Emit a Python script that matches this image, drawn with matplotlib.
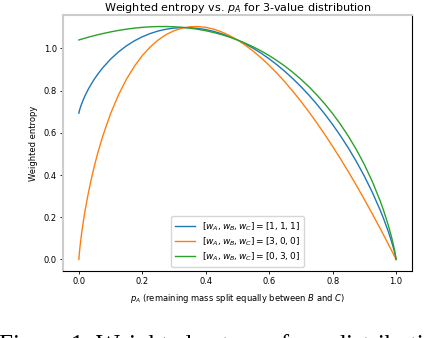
import matplotlib
matplotlib.use("Agg")
import matplotlib.pyplot as plt

# p_A values and weighted entropy
p_a = [0.0, 0.002, 0.005, 0.01, 0.015, 0.02, 0.03, 0.04, 0.05, 0.06, 0.075, 0.1,
       0.125, 0.15, 0.175, 0.2, 0.225, 0.25, 0.275, 0.3, 0.325, 0.35, 0.375, 0.4,
       0.425, 0.45, 0.475, 0.5, 0.525, 0.55, 0.575, 0.6, 0.625, 0.65, 0.675, 0.7,
       0.725, 0.75, 0.775, 0.8, 0.825, 0.85, 0.875, 0.9, 0.925, 0.95, 0.96, 0.975,
       0.985, 0.99, 0.995, 0.998, 1.0]
h_111 = [0.6931, 0.7062, 0.7212, 0.7422, 0.7606, 0.7773, 0.8071, 0.8334, 0.8570,
         0.8785, 0.9075, 0.9489, 0.9833, 1.0119, 1.0356, 1.0549, 1.0704, 1.0822,
         1.0907, 1.0961, 1.0985, 1.0980, 1.0948, 1.0889, 1.0804, 1.0694, 1.0558,
         1.0397, 1.0212, 1.0001, 0.9765, 0.9503, 0.9215, 0.8901, 0.8559, 0.8188,
         0.7788, 0.7356, 0.6891, 0.6390, 0.5850, 0.5267, 0.4634, 0.3944, 0.3184,
         0.2332, 0.1957, 0.1342, 0.0883, 0.0629, 0.0350, 0.0158, 0.0]
h_300 = [0.0, 0.0373, 0.0795, 0.1382, 0.1890, 0.2347, 0.3156, 0.3863, 0.4494,
         0.5064, 0.5828, 0.6908, 0.7798, 0.8537, 0.9151, 0.9657, 1.0069, 1.0397,
         1.0651, 1.0836, 1.0958, 1.1023, 1.1034, 1.0995, 1.0910, 1.0780, 1.0608,
         1.0397, 1.0149, 0.9864, 0.9546, 0.9195, 0.8813, 0.8400, 0.7959, 0.7490,
         0.6995, 0.6473, 0.5926, 0.5355, 0.4761, 0.4144, 0.3505, 0.2845, 0.2163,
         0.1462, 0.1176, 0.0741, 0.0447, 0.0299, 0.0150, 0.0060, 0.0]
h_030 = [1.0397, 1.0406, 1.0420, 1.0442, 1.0464, 1.0486, 1.0529, 1.0569, 1.0608,
         1.0646, 1.0699, 1.0780, 1.0850, 1.0910, 1.0958, 1.0995, 1.1021, 1.1034,
         1.1035, 1.1023, 1.0998, 1.0958, 1.0904, 1.0836, 1.0751, 1.0651, 1.0533,
         1.0397, 1.0243, 1.0069, 0.9874, 0.9657, 0.9416, 0.9151, 0.8858, 0.8537,
         0.8185, 0.7798, 0.7374, 0.6908, 0.6395, 0.5828, 0.5199, 0.4494, 0.3694,
         0.2767, 0.2347, 0.1643, 0.1101, 0.0795, 0.0449, 0.0207, 0.0]

labels = [r"$[w_A, w_B, w_C] = [1, 1, 1]$",
          r"$[w_A, w_B, w_C] = [3, 0, 0]$",
          r"$[w_A, w_B, w_C] = [0, 3, 0]$"]

fig = plt.figure(figsize=(4.3, 3.38), dpi=100)
ax = fig.add_axes([0.1465, 0.198, 0.8115, 0.758])

ax.plot(p_a, h_111, color="tab:blue", lw=1.0, label=labels[0])
ax.plot(p_a, h_300, color="tab:orange", lw=1.0, label=labels[1])
ax.plot(p_a, h_030, color="tab:green", lw=1.0, label=labels[2])

ax.set_title(r"Weighted entropy vs. $p_A$ for 3-value distribution", fontsize=8, pad=3)
ax.set_xlabel(r"$p_A$ (remaining mass split equally between $B$ and $C$)", fontsize=6, labelpad=4)
ax.set_ylabel("Weighted entropy", fontsize=6, labelpad=4)
ax.tick_params(labelsize=6, width=0.6, length=2.5, pad=2)
for side in ["right", "bottom"]:
    ax.spines[side].set_linewidth(0.8)
for side in ["left", "top"]:
    ax.spines[side].set_linewidth(1.5)
    ax.spines[side].set_color("#cccccc")
ax.legend(loc="lower center", fontsize=6.5, handlelength=2.2, borderpad=0.4,
          labelspacing=0.3, framealpha=0.8)

# caption of the paper figure, cut by the bottom edge
fig.text(-0.003, -0.041, "Figure 1: Weighted entropy for a distribution",
         family="Liberation Serif", fontsize=18, ha="left", va="baseline")

fig.savefig("out.png", dpi=100)
